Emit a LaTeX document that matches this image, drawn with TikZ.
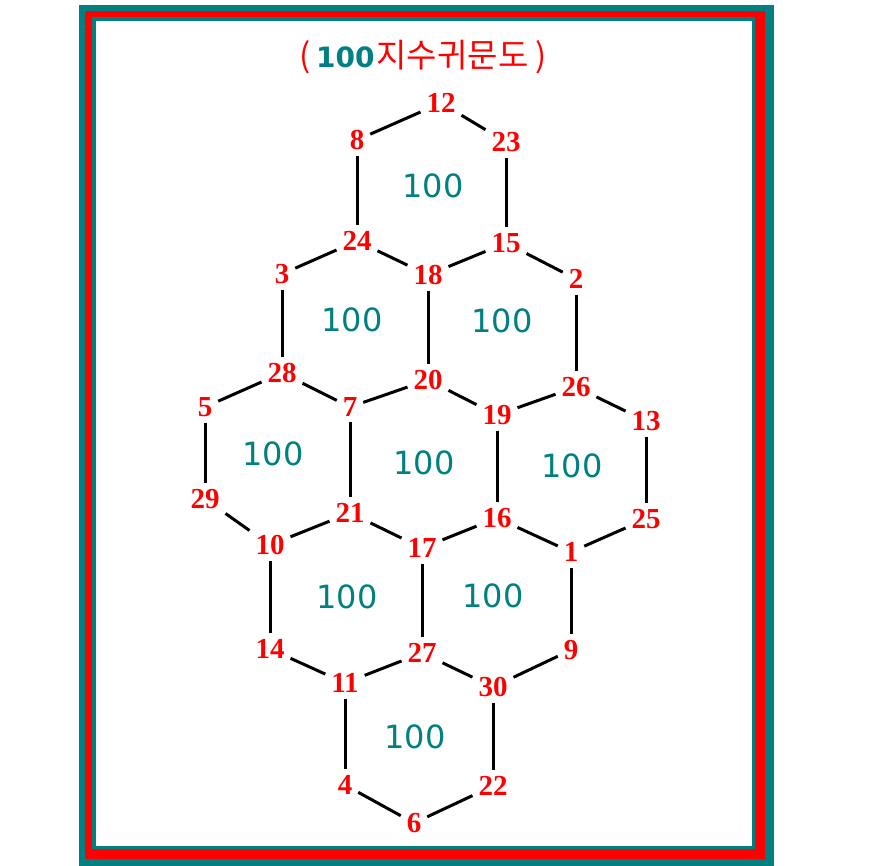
\documentclass[tikz,border=0pt]{standalone}
\usepackage{fontspec}
\newfontfamily\numfont{Liberation Serif}
\newfontfamily\sumfont{DejaVu Sans}
\newfontfamily\cjk{Noto Sans CJK KR}
\definecolor{boxteal}{RGB}{0,128,128}
\tikzstyle{num} = [text=red, font=\numfont\bfseries\fontsize{29}{29}\selectfont, inner sep=4pt, outer sep=2pt]
\tikzstyle{sum} = [text=boxteal, font=\sumfont\fontsize{32}{32}\selectfont]
\tikzstyle{line} = [draw, line width=3pt]

\begin{document}
\begin{tikzpicture}[x=1pt, y=-1pt]
\useasboundingbox (0,0) rectangle (884,866);

% frame
\fill [boxteal] (79,5) rectangle (774,866);
\fill [red] (85,11) rectangle (765,859);
\fill [boxteal] (92,17) rectangle (755,849);
\fill [white] (96,21) rectangle (752,846);

\node (title) at (423,57) {\color{red}\cjk\fontsize{33}{33}\selectfont (\hspace{6pt}{\color{boxteal}\sumfont\bfseries\fontsize{28}{28}\selectfont 100}\hspace{2pt}지수귀문도 )};

\node [num] (n12) at (441,103) {12};
\node [num] (n8) at (357,140) {8};
\node [num] (n23) at (506,142) {23};
\node [num] (n24) at (357,241) {24};
\node [num] (n15) at (506,243) {15};
\node [num] (n3) at (282,274) {3};
\node [num] (n18) at (428,275) {18};
\node [num] (n2) at (576,279) {2};
\node [num] (n28) at (282,373) {28};
\node [num] (n20) at (428,380) {20};
\node [num] (n26) at (576,387) {26};
\node [num] (n5) at (205,407) {5};
\node [num] (n7) at (350,407) {7};
\node [num] (n19) at (497,415) {19};
\node [num] (n13) at (646,421) {13};
\node [num] (n29) at (205,499) {29};
\node [num] (n21) at (350,513) {21};
\node [num] (n16) at (497,518) {16};
\node [num] (n25) at (646,519) {25};
\node [num] (n10) at (270,545) {10};
\node [num] (n17) at (422,548) {17};
\node [num] (n1) at (571,552) {1};
\node [num] (n14) at (270,649) {14};
\node [num] (n27) at (422,653) {27};
\node [num] (n9) at (571,650) {9};
\node [num] (n11) at (345,683) {11};
\node [num] (n30) at (493,687) {30};
\node [num] (n4) at (345,785) {4};
\node [num] (n22) at (493,786) {22};
\node [num] (n6) at (414,823) {6};

\node [sum] (h1) at (433,186) {100};
\node [sum] (h2) at (352,320) {100};
\node [sum] (h3) at (502,321) {100};
\node [sum] (h4) at (273,454) {100};
\node [sum] (h5) at (424,463) {100};
\node [sum] (h6) at (572,466) {100};
\node [sum] (h7) at (347,597) {100};
\node [sum] (h8) at (493,596) {100};
\node [sum] (h9) at (415,737) {100};

\path [line] (n12) -- (n8);
\path [line] (n12) -- (n23);
\path [line] (n8) -- (n24);
\path [line] (n23) -- (n15);
\path [line] (n24) -- (n18);
\path [line] (n18) -- (n15);
\path [line] (n24) -- (n3);
\path [line] (n15) -- (n2);
\path [line] (n3) -- (n28);
\path [line] (n18) -- (n20);
\path [line] (n2) -- (n26);
\path [line] (n28) -- (n7);
\path [line] (n7) -- (n20);
\path [line] (n20) -- (n19);
\path [line] (n19) -- (n26);
\path [line] (n28) -- (n5);
\path [line] (n26) -- (n13);
\path [line] (n5) -- (n29);
\path [line] (n7) -- (n21);
\path [line] (n19) -- (n16);
\path [line] (n13) -- (n25);
\path [line] (n29) -- (n10);
\path [line] (n10) -- (n21);
\path [line] (n21) -- (n17);
\path [line] (n17) -- (n16);
\path [line] (n16) -- (n1);
\path [line] (n1) -- (n25);
\path [line] (n10) -- (n14);
\path [line] (n17) -- (n27);
\path [line] (n1) -- (n9);
\path [line] (n14) -- (n11);
\path [line] (n11) -- (n27);
\path [line] (n27) -- (n30);
\path [line] (n30) -- (n9);
\path [line] (n11) -- (n4);
\path [line] (n30) -- (n22);
\path [line] (n4) -- (n6);
\path [line] (n6) -- (n22);

\end{tikzpicture}
\end{document}
